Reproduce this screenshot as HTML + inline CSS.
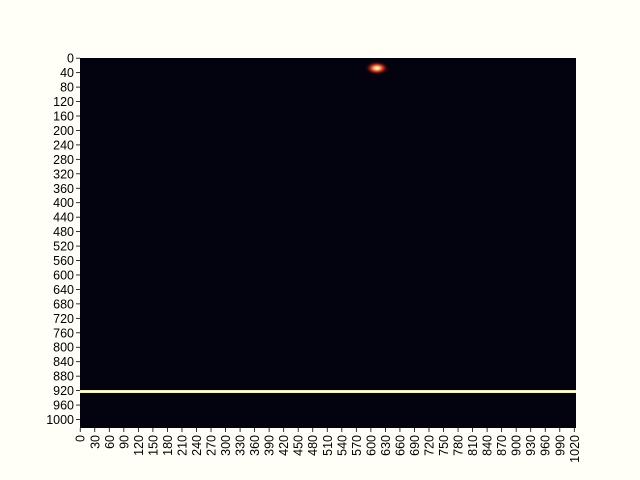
<!DOCTYPE html>
<html><head><meta charset="utf-8"><style>
body{margin:0;background:#fffff8;}
svg{display:block;font-family:"Liberation Sans","DejaVu Sans",sans-serif;}
</style></head><body>
<svg id="c" width="640" height="480"></svg>
<script>
const nCols = 1024;
const nRows = 1024;
const xTicks = [0,30,60,90,120,150,180,210,240,270,300,330,360,390,420,450,480,510,540,570,600,630,660,690,720,750,780,810,840,870,900,930,960,990,1020];
const yTicks = [0,40,80,120,160,200,240,280,320,360,400,440,480,520,560,600,640,680,720,760,800,840,880,920,960,1000];
const lineRows = [919, 927];
const spotCenter = [613, 28];
const spotRadius = [26, 20];

const L=80,R=576,T=58,B=428;
const sx=v=>L+(v/nCols)*(R-L);
const sy=v=>T+(v/nRows)*(B-T);
const svg=document.getElementById('c');
const NS='http://www.w3.org/2000/svg';
function mk(t,a){const e=document.createElementNS(NS,t);for(const k in a)e.setAttribute(k,a[k]);svg.appendChild(e);return e;}

const defs=document.createElementNS(NS,'defs');svg.appendChild(defs);
defs.innerHTML='<radialGradient id="g"><stop offset="0" stop-color="#ffffe0"/><stop offset="0.2" stop-color="#ffd080"/><stop offset="0.45" stop-color="#e04020"/><stop offset="0.75" stop-color="#500810" stop-opacity="0.6"/><stop offset="1" stop-color="#03030f" stop-opacity="0"/></radialGradient>';

const bg=mk('rect',{x:L,y:T,width:R-L,height:B-T,fill:'#03030f'});



const ln=mk('rect',{x:L,y:sy(lineRows[0]),width:R-L,height:sy(lineRows[1])-sy(lineRows[0]),fill:'#ffffc0'});



const sp=mk('ellipse',{cx:sx(spotCenter[0]),cy:sy(spotCenter[1]),rx:sx(spotRadius[0])-L,ry:sy(spotRadius[1])-T,fill:'url(#g)'});



xTicks.forEach(v=>{
  const x=sx(v+0.5);
  const t=mk('line',{x1:x,x2:x,y1:B,y2:B+4,stroke:'#000','stroke-width':0.8});
  
  
  const tx=mk('text',{x:0,y:0,'font-size':12.5,'text-anchor':'end',transform:`translate(${x+4.5},${B+7}) rotate(-90)`});
  tx.textContent=v;
  
  
});
yTicks.forEach(v=>{
  const y=sy(v+0.5);
  const t=mk('line',{x1:L-4,x2:L,y1:y,y2:y,stroke:'#000','stroke-width':0.8});
  
  
  const tx=mk('text',{x:L-6,y:y+4.5,'font-size':12.5,'text-anchor':'end'});
  tx.textContent=v;
  
  
});
</script>
</body></html>
